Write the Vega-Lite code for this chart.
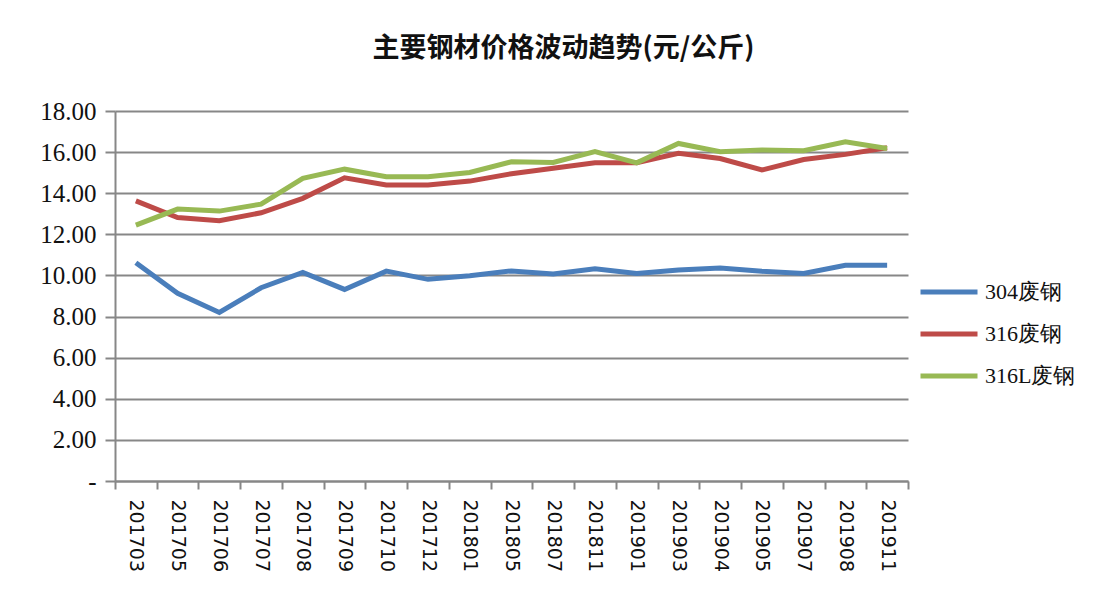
{
  "$schema": "https://vega.github.io/schema/vega-lite/v6.json",
  "autosize": {"type": "none"},
  "width": 793,
  "height": 370,
  "padding": {"left": 115, "top": 111, "right": 197, "bottom": 118},
  "background": "white",
  "title": {
    "text": "主要钢材价格波动趋势(元/公斤)",
    "font": "Noto Sans CJK SC",
    "fontSize": 27,
    "fontWeight": "bold",
    "color": "#111111",
    "anchor": "middle",
    "dx": 52,
    "offset": 36
  },
  "data": {
    "values": [
      {"month": "201703", "series": "304废钢", "value": 10.62},
      {"month": "201705", "series": "304废钢", "value": 9.13},
      {"month": "201706", "series": "304废钢", "value": 8.2},
      {"month": "201707", "series": "304废钢", "value": 9.4},
      {"month": "201708", "series": "304废钢", "value": 10.15},
      {"month": "201709", "series": "304废钢", "value": 9.32},
      {"month": "201710", "series": "304废钢", "value": 10.21},
      {"month": "201712", "series": "304废钢", "value": 9.81},
      {"month": "201801", "series": "304废钢", "value": 9.99},
      {"month": "201805", "series": "304废钢", "value": 10.22},
      {"month": "201807", "series": "304废钢", "value": 10.07},
      {"month": "201811", "series": "304废钢", "value": 10.33},
      {"month": "201901", "series": "304废钢", "value": 10.1},
      {"month": "201903", "series": "304废钢", "value": 10.26},
      {"month": "201904", "series": "304废钢", "value": 10.36},
      {"month": "201905", "series": "304废钢", "value": 10.2},
      {"month": "201907", "series": "304废钢", "value": 10.1},
      {"month": "201908", "series": "304废钢", "value": 10.49},
      {"month": "201911", "series": "304废钢", "value": 10.49},
      {"month": "201703", "series": "316废钢", "value": 13.63},
      {"month": "201705", "series": "316废钢", "value": 12.82},
      {"month": "201706", "series": "316废钢", "value": 12.66},
      {"month": "201707", "series": "316废钢", "value": 13.05},
      {"month": "201708", "series": "316废钢", "value": 13.75},
      {"month": "201709", "series": "316废钢", "value": 14.75},
      {"month": "201710", "series": "316废钢", "value": 14.4},
      {"month": "201712", "series": "316废钢", "value": 14.4},
      {"month": "201801", "series": "316废钢", "value": 14.59},
      {"month": "201805", "series": "316废钢", "value": 14.95},
      {"month": "201807", "series": "316废钢", "value": 15.21},
      {"month": "201811", "series": "316废钢", "value": 15.48},
      {"month": "201901", "series": "316废钢", "value": 15.48},
      {"month": "201903", "series": "316废钢", "value": 15.94},
      {"month": "201904", "series": "316废钢", "value": 15.69},
      {"month": "201905", "series": "316废钢", "value": 15.13},
      {"month": "201907", "series": "316废钢", "value": 15.64},
      {"month": "201908", "series": "316废钢", "value": 15.89},
      {"month": "201911", "series": "316废钢", "value": 16.21},
      {"month": "201703", "series": "316L废钢", "value": 12.45},
      {"month": "201705", "series": "316L废钢", "value": 13.23},
      {"month": "201706", "series": "316L废钢", "value": 13.13},
      {"month": "201707", "series": "316L废钢", "value": 13.47},
      {"month": "201708", "series": "316L废钢", "value": 14.72},
      {"month": "201709", "series": "316L废钢", "value": 15.17},
      {"month": "201710", "series": "316L废钢", "value": 14.8},
      {"month": "201712", "series": "316L废钢", "value": 14.8},
      {"month": "201801", "series": "316L废钢", "value": 15.01},
      {"month": "201805", "series": "316L废钢", "value": 15.53},
      {"month": "201807", "series": "316L废钢", "value": 15.5},
      {"month": "201811", "series": "316L废钢", "value": 16.02},
      {"month": "201901", "series": "316L废钢", "value": 15.48},
      {"month": "201903", "series": "316L废钢", "value": 16.42},
      {"month": "201904", "series": "316L废钢", "value": 16.02},
      {"month": "201905", "series": "316L废钢", "value": 16.1},
      {"month": "201907", "series": "316L废钢", "value": 16.07},
      {"month": "201908", "series": "316L废钢", "value": 16.5},
      {"month": "201911", "series": "316L废钢", "value": 16.18}
    ]
  },
  "mark": {"type": "line", "strokeWidth": 5, "strokeJoin": "miter", "strokeCap": "butt"},
  "encoding": {
    "x": {
      "field": "month",
      "type": "ordinal",
      "scale": {"type": "band", "paddingInner": 0, "paddingOuter": 0},
      "axis": {
        "title": null,
        "labelAngle": 90,
        "labelFont": "DejaVu Sans",
        "labelFontSize": 19,
        "labelColor": "#111111",
        "labelPadding": 10,
        "tickBand": "extent",
        "tickSize": 8,
        "tickWidth": 2,
        "tickColor": "#878787",
        "domainColor": "#878787",
        "domainWidth": 2,
        "grid": false
      }
    },
    "y": {
      "field": "value",
      "type": "quantitative",
      "scale": {"domain": [0, 18], "nice": false, "zero": true},
      "axis": {
        "title": null,
        "values": [0, 2, 4, 6, 8, 10, 12, 14, 16, 18],
        "labelExpr": "datum.value == 0 ? '-' : format(datum.value, '.2f')",
        "labelFont": "Liberation Serif",
        "labelFontSize": 25,
        "labelColor": "#111111",
        "labelPadding": 9,
        "tickSize": 10,
        "tickWidth": 2,
        "tickColor": "#878787",
        "domainColor": "#878787",
        "domainWidth": 2,
        "grid": true,
        "gridColor": "#878787",
        "gridWidth": 2
      }
    },
    "color": {
      "field": "series",
      "type": "nominal",
      "sort": ["304废钢", "316废钢", "316L废钢"],
      "scale": {
        "domain": ["304废钢", "316废钢", "316L废钢"],
        "range": ["#4a7ebb", "#be4b48", "#98b954"]
      },
      "legend": {
        "title": null,
        "orient": "none",
        "legendX": 803,
        "legendY": 150,
        "symbolType": "stroke",
        "symbolSize": 3249,
        "symbolStrokeWidth": 5,
        "labelFont": "Liberation Serif",
        "labelFontSize": 22,
        "labelColor": "#111111",
        "labelOffset": 5,
        "rowPadding": -4
      }
    }
  },
  "config": {
    "view": {"stroke": null}
  }
}
